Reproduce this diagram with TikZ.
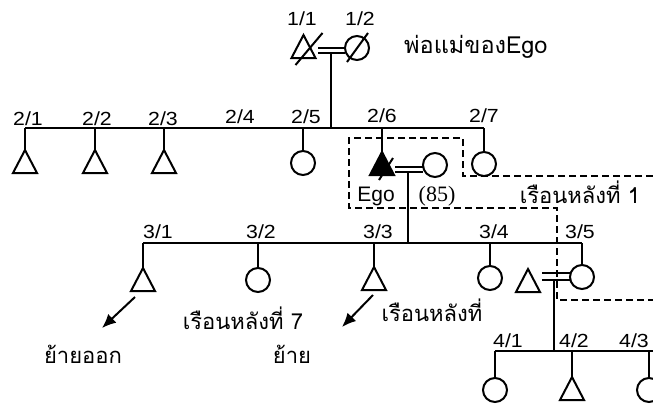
\documentclass[tikz,border=0pt]{standalone}
\usepackage{fontspec}
\setmainfont{Liberation Sans}
\newfontfamily\thaifont[Script=Thai]{Loma}
\newfontfamily\labfont[FakeStretch=1.12]{Liberation Sans}
\newfontfamily\serfont{Liberation Serif}
\usetikzlibrary{shapes.geometric,arrows.meta}
\tikzset{
 ln/.style={line width=2pt},
 male/.style={draw, line width=2pt, isosceles triangle, shape border rotate=90,
   isosceles triangle stretches, minimum width=24pt, minimum height=23pt,
   inner sep=0pt, outer sep=0pt, anchor=apex},
 female/.style={draw, line width=2pt, circle, minimum size=24pt, inner sep=0pt, outer sep=0pt},
 num/.style={font=\labfont\fontsize{19}{21}\selectfont, inner sep=0pt, anchor=base},
 thai/.style={font=\thaifont\fontsize{22}{26}\selectfont, inner sep=0pt, anchor=base},
 hh/.style={line width=1.6pt, dash pattern=on 7pt off 4pt},
 arr/.style={line width=2pt, -{Latex[length=14pt,width=12pt]}},
}
\begin{document}
\begin{tikzpicture}[x=1pt,y=-1pt]
\clip (0,0) rectangle (653,405);
% ---------- generation 1
\node[male] (t11) at (303.5,35) {};
\node[female] (c12) at (357,48) {};
\draw[ln] ([shift={(-8,30)}]t11.apex) -- ([shift={(19,-2)}]t11.apex);
\draw[ln] ([shift={(-10,14)}]c12.center) -- ([shift={(11,-15)}]c12.center);
\coordinate (m1) at (331,50);
\draw[ln] ([shift={(-13,-2.5)}]m1) -- ([shift={(14,-2.5)}]m1);
\draw[ln] ([shift={(-13,2.5)}]m1) -- ([shift={(14,2.5)}]m1);
\coordinate (s2) at (331,128);
\draw[ln] ([shift={(0,2.5)}]m1) -- (s2);
\node[num] (l11) at (302,25) {1/1};
\node[num] (l12) at (360,25) {1/2};
\node[thai, font=\thaifont\fontsize{23.5}{26}\selectfont, anchor=base west] (par) at (404,53) {พ่อแม่ของEgo};
% ---------- generation 2
\coordinate (g2l) at (25,128);
\coordinate (g2r) at (484,128);
\draw[ln] (g2l) -- (g2r);
\node[male] (t21) at (25,150) {};
\node[male] (t22) at (95,150) {};
\node[male] (t23) at (164,150) {};
\node[female] (c25) at (303,163) {};
\node[male, fill=black] (ego) at (382,152) {};
\node[female] (c27) at (484,164) {};
\foreach \n in {t21,t22,t23,ego}{\draw[ln] (\n.apex |- g2l) -- (\n.apex);}
\foreach \n in {c25,c27}{\draw[ln] (\n.north |- g2l) -- (\n.north);}
\draw[ln] ([shift={(-3,28)}]ego.apex) -- ([shift={(11,6)}]ego.apex);
\node[female] (c26s) at (435,165) {};
\coordinate (m2) at (408,169.5);
\draw[ln] ([shift={(-13,-2.5)}]m2) -- (c26s.west |- 0,167);
\draw[ln] ([shift={(-13,2.5)}]m2) -- (c26s.west |- 0,172);
\coordinate (s3) at (408,243);
\draw[ln] ([shift={(0,2.5)}]m2) -- (s3);
\node[num] (l21) at (28,125) {2/1};
\node[num] (l22) at (97,125) {2/2};
\node[num] (l23) at (163,125) {2/3};
\node[num] (l24) at (240,123) {2/4};
\node[num] (l25) at (306,123) {2/5};
\node[num] (l26) at (382,122) {2/6};
\node[num] (l27) at (484,122) {2/7};
\node[font=\fontsize{21}{24}\selectfont, inner sep=0pt, anchor=base] (egot) at (376,201) {Ego};
\node[font=\serfont\fontsize{22}{24}\selectfont, inner sep=0pt, anchor=base] (n85) at (437,201) {(85)};
\node[thai] (h1) at (580,203) {เรือนหลังที่ 1};
% household outline
\draw[hh] (653,176) -- (463,176) -- (463,138) -- (349,138) -- (349,208) -- (557,208) -- (557,300) -- (653,300);
% ---------- generation 3
\coordinate (g3l) at (143,243);
\coordinate (g3r) at (582,243);
\draw[ln] (g3l) -- (g3r);
\node[male] (t31) at (143,268) {};
\node[female] (c32) at (258,280) {};
\node[male] (t33) at (374,267) {};
\node[female] (c34) at (490,278) {};
\node[female] (c35) at (582,277) {};
\node[male] (t35h) at (528,269) {};
\foreach \n in {t31,t33}{\draw[ln] (\n.apex |- g3l) -- (\n.apex);}
\foreach \n in {c32,c34,c35}{\draw[ln] (\n.north |- g3l) -- (\n.north);}
\coordinate (m3) at (554,276.5);
\draw[ln] ([shift={(-12,-3.5)}]m3) -- (c35.west |- 0,273);
\draw[ln] ([shift={(-12,3.5)}]m3) -- (c35.west |- 0,280);
\coordinate (s4) at (554,351);
\draw[ln] ([shift={(0,3.5)}]m3) -- (s4);
\node[num] (l31) at (158,238) {3/1};
\node[num] (l32) at (261,238) {3/2};
\node[num] (l33) at (378,238) {3/3};
\node[num] (l34) at (494,238) {3/4};
\node[num] (l35) at (580,238) {3/5};
\coordinate (a1s) at (135,297);
\coordinate (a1e) at (102,328);
\draw[arr] (a1s) -- (a1e);
\coordinate (a2s) at (373,295);
\coordinate (a2e) at (342,327);
\draw[arr] (a2s) -- (a2e);
\node[thai] (mv1) at (83,363) {ย้ายออก};
\node[thai] (h7) at (243,329) {เรือนหลังที่ 7};
\node[thai] (mv2) at (292,363) {ย้าย};
\node[thai] (hx) at (432,321) {เรือนหลังที่};
% ---------- generation 4
\coordinate (g4l) at (495,351);
\coordinate (g4r) at (653,351);
\draw[ln] (g4l) -- (g4r);
\node[female] (c41) at (495,390) {};
\node[male] (t42) at (572,377) {};
\node[female] (c43) at (649,390) {};
\draw[ln] (c41.north |- g4l) -- (c41.north);
\draw[ln] (t42.apex |- g4l) -- (t42.apex);
\draw[ln] (c43.north |- g4l) -- (c43.north);
\node[num] (l41) at (508,347) {4/1};
\node[num] (l42) at (574,347) {4/2};
\node[num] (l43) at (634,347) {4/3};
\end{tikzpicture}
\end{document}
